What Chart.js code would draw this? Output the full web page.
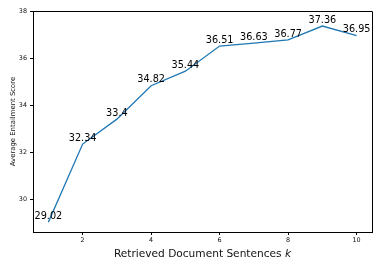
<!DOCTYPE html>
<html>
<head>
<meta charset="utf-8">
<script src="https://cdn.jsdelivr.net/npm/chart.js@4/dist/chart.umd.min.js"></script>
<style>
  html, body { margin: 0; padding: 0; background: #fff; }
  #wrap { width: 382px; height: 267px; }
</style>
</head>
<body>
<div id="wrap"><canvas id="chart"></canvas></div>
<script>
const kValues = [1, 2, 3, 4, 5, 6, 7, 8, 9, 10];
const scores = [29.02, 32.34, 33.4, 34.82, 35.44, 36.51, 36.63, 36.77, 37.36, 36.95];
const xTicks = [2, 4, 6, 8, 10];
const yTicks = [30, 32, 34, 36, 38];

const FONT = '"DejaVu Sans", sans-serif';

// point labels + frame + axis titles
const extras = {
  id: 'extras',
  afterDatasetsDraw(chart) {
    const { ctx, chartArea: a } = chart;
    const xs = chart.scales.x, ys = chart.scales.y;
    ctx.save();
    // top/right spines
    ctx.strokeStyle = '#000';
    ctx.lineWidth = 1;
    ctx.beginPath();
    ctx.moveTo(a.left, a.top + 0.5);
    ctx.lineTo(a.right + 0.5, a.top + 0.5);
    ctx.lineTo(a.right + 0.5, a.bottom);
    ctx.stroke();

    ctx.fillStyle = '#000';
    ctx.font = '9.7px ' + FONT;
    ctx.textAlign = 'center';
    ctx.textBaseline = 'alphabetic';
    scores.forEach((v, i) => {
      ctx.fillText(String(v), xs.getPixelForValue(kValues[i]), ys.getPixelForValue(v) - 3.4);
    });

    // x title with italic k
    const t1 = 'Retrieved Document Sentences ';
    ctx.font = 'italic 10.6px ' + FONT;
    const wk = ctx.measureText('k').width;
    ctx.font = '10.6px ' + FONT;
    const w1 = ctx.measureText(t1).width;
    const cx = (a.left + a.right) / 2;
    const sx = cx - (w1 + wk) / 2;
    ctx.textAlign = 'left';
    ctx.fillStyle = '#111';
    ctx.fillText(t1, sx, 256.5);
    ctx.font = 'italic 10.6px ' + FONT;
    ctx.fillText('k', sx + w1, 256.5);

    // y title
    ctx.font = '6.9px ' + FONT;
    ctx.textAlign = 'center';
    ctx.translate(14.5, (a.top + a.bottom) / 2);
    ctx.rotate(-Math.PI / 2);
    ctx.fillText('Average Entailment Score', 0, 0);
    ctx.restore();
  }
};

new Chart(document.getElementById('chart'), {
  type: 'line',
  data: {
    datasets: [{
      data: kValues.map((k, i) => ({ x: k, y: scores[i] })),
      borderColor: '#1f77b4',
      borderWidth: 1.3,
      pointRadius: 0,
      tension: 0,
      fill: false
    }]
  },
  options: {
    responsive: true,
    maintainAspectRatio: false,
    animation: false,
    layout: { padding: { top: 11, right: 10, left: 0, bottom: 0 } },
    plugins: { legend: { display: false }, tooltip: { enabled: false } },
    scales: {
      x: {
        type: 'linear',
        min: 0.55, max: 10.45,
        afterBuildTicks: s => { s.ticks = xTicks.map(v => ({ value: v })); },
        afterFit: s => { s.height = 35; },
        ticks: { color: '#111', font: { family: FONT, size: 6.4 }, padding: 2, maxRotation: 0 },
        grid: { display: true, drawOnChartArea: false, drawTicks: true, tickLength: 3, color: '#000' },
        border: { display: true, color: '#000', width: 1 }
      },
      y: {
        min: 28.6, max: 38,
        afterBuildTicks: s => { s.ticks = yTicks.map(v => ({ value: v })); },
        afterFit: s => { s.width = 33; },
        ticks: { color: '#111', font: { family: FONT, size: 6.4 }, padding: 3 },
        grid: { display: true, drawOnChartArea: false, drawTicks: true, tickLength: 3, color: '#000' },
        border: { display: true, color: '#000', width: 1 }
      }
    }
  },
  plugins: [extras]
});
</script>
</body>
</html>
